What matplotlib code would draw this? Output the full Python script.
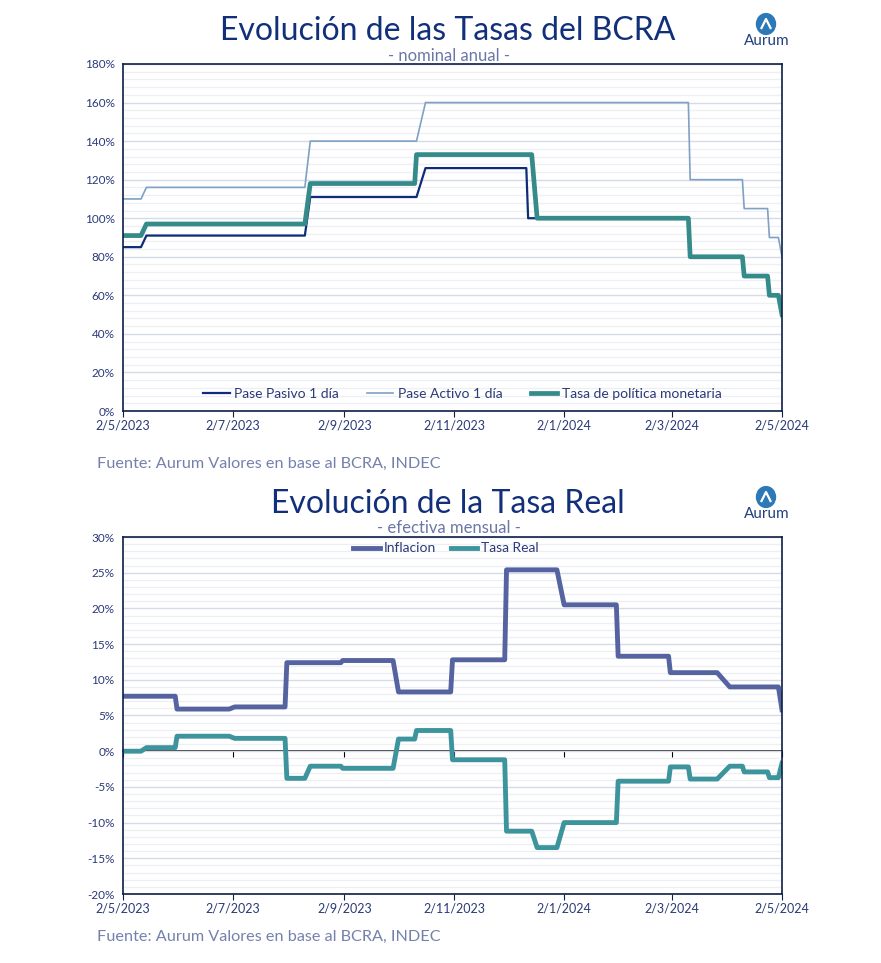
import numpy as np
import pandas as pd
import matplotlib
matplotlib.use("Agg")
import matplotlib.pyplot as plt
import matplotlib.dates as mdates
from matplotlib.ticker import FuncFormatter, MultipleLocator
from matplotlib.lines import Line2D
from matplotlib.patches import Circle
from pandas.tseries.offsets import CustomBusinessDay

plt.rcParams['font.family'] = ['Lato', 'DejaVu Sans']
plt.rcParams['axes.unicode_minus'] = False

# --- data ---
start_date = "2023-05-02"
end_date = "2024-05-02"
holidays = ["2023-05-25", "2023-05-26", "2023-06-19", "2023-06-20", "2023-08-21",
            "2023-10-13", "2023-10-16", "2023-11-20", "2023-12-08", "2023-12-25",
            "2024-01-01", "2024-02-12", "2024-02-13", "2024-03-28", "2024-03-29",
            "2024-04-01", "2024-04-02", "2024-05-01"]
x_ticks = ["2023-05-02", "2023-07-02", "2023-09-02", "2023-11-02",
           "2024-01-02", "2024-03-02", "2024-05-02"]

# nominal annual rates (%), dates where each level starts
pasivo_dates = ["2023-05-02", "2023-05-15", "2023-08-14", "2023-10-17", "2023-12-13"]
pasivo_vals = [85, 91, 111, 126, 100]
pasivo_end = "2023-12-18"

activo_dates = ["2023-05-02", "2023-05-15", "2023-08-14", "2023-10-17",
                "2024-03-12", "2024-04-11", "2024-04-25", "2024-05-02"]
activo_vals = [110, 116, 140, 160, 120, 105, 90, 80]

tpm_dates = ["2023-05-02", "2023-05-15", "2023-08-14", "2023-10-12", "2023-12-18",
             "2024-03-12", "2024-04-11", "2024-04-25", "2024-05-02"]
tpm_vals = [91, 97, 118, 133, 100, 80, 70, 60, 50]

# monthly effective (%)
infl_dates = ["2023-05-02", "2023-06-01", "2023-07-03", "2023-08-01", "2023-09-01",
              "2023-10-02", "2023-11-01", "2023-12-01", "2024-01-02", "2024-02-01",
              "2024-03-01", "2024-04-03", "2024-05-02"]
infl_vals = [7.7, 5.9, 6.2, 12.4, 12.7, 8.3, 12.8, 25.4, 20.5, 13.3, 11.0, 9.0, 5.8]

real_dates = ["2023-05-02", "2023-05-15", "2023-06-01", "2023-07-03", "2023-08-01",
              "2023-08-14", "2023-09-01", "2023-10-02", "2023-10-12", "2023-11-01",
              "2023-12-01", "2023-12-18", "2024-01-02", "2024-02-01", "2024-03-01",
              "2024-03-12", "2024-04-03", "2024-04-11", "2024-04-25", "2024-05-02"]
real_vals = [0.0, 0.5, 2.1, 1.8, -3.8, -2.1, -2.4, 1.7, 2.9, -1.2,
             -11.2, -13.5, -10.0, -4.2, -2.2, -3.9, -2.1, -2.9, -3.7, -1.7]

bday = CustomBusinessDay(holidays=holidays)


def step_points(dates, vals, end=end_date):
    """Vertices of a step series sampled on business days."""
    dts = pd.to_datetime(dates)
    xs, ys = [], []
    for i, (d, v) in enumerate(zip(dts, vals)):
        if i > 0:
            xs.append(d - bday)
            ys.append(vals[i - 1])
        xs.append(d)
        ys.append(v)
    if pd.Timestamp(end) > xs[-1]:
        xs.append(pd.Timestamp(end))
        ys.append(vals[-1])
    return xs, ys


title_c = '#12307a'
sub_c = '#6b78a6'
tick_c = '#2b3a78'
spine_c = '#0d1f45'
W, H = 881, 963


def fx(x):
    return x / W


def fy(y):
    return 1 - y / H


def date_fmt(x, pos):
    d = mdates.num2date(x)
    return f"{d.day}/{d.month}/{d.year}"


def style_axes(ax, major, minor):
    ax.set_xlim(pd.Timestamp(start_date), pd.Timestamp(end_date))
    ax.set_xticks(pd.to_datetime(x_ticks))
    ax.xaxis.set_major_formatter(FuncFormatter(date_fmt))
    ax.yaxis.set_major_locator(MultipleLocator(major))
    ax.yaxis.set_minor_locator(MultipleLocator(minor))
    ax.yaxis.set_major_formatter(FuncFormatter(lambda v, p: f"{v:.0f}%"))
    ax.grid(axis='y', which='major', color='#d5dbe8', lw=1.0)
    ax.grid(axis='y', which='minor', color='#eceff6', lw=0.9)
    ax.set_axisbelow(True)
    for s in ax.spines.values():
        s.set_color(spine_c)
        s.set_linewidth(1.2)
    ax.tick_params(axis='y', length=0, labelsize=8.5, labelcolor=tick_c, pad=6)
    ax.tick_params(axis='y', which='minor', length=0)
    ax.tick_params(axis='x', length=4, direction='out', color=spine_c,
                   labelsize=9, labelcolor=tick_c, pad=2)


def logo(cx, cy):
    fig.patches.append(Circle((fx(cx), fy(cy)), 9.5 / W, transform=fig.transFigure,
                              color='#2d79b8', zorder=5))
    fig.lines.append(Line2D([fx(cx - 4.5), fx(cx), fx(cx + 4.5)],
                            [fy(cy + 4), fy(cy - 5), fy(cy + 4)],
                            transform=fig.transFigure, color='white', lw=1.6, zorder=6))
    fig.text(fx(cx + 1), fy(cy + 17), "Aurum", ha='center', va='center',
             fontsize=11, color='#22407f')


fig = plt.figure(figsize=(W / 100, H / 100), dpi=100)

# ---------------- top chart ----------------
ax1 = fig.add_axes([fx(123), fy(411), fx(782) - fx(123), fy(64) - fy(411)])
x, y = step_points(pasivo_dates, pasivo_vals, pasivo_end)
ax1.plot(x, y, color='#0f2c78', lw=1.6, label='Pase Pasivo 1 día')
x, y = step_points(activo_dates, activo_vals)
ax1.plot(x, y, color='#7ea1c4', lw=1.2, label='Pase Activo 1 día')
x, y = step_points(tpm_dates, tpm_vals)
ax1.plot(x, y, color='#358a8a', lw=3.4, label='Tasa de política monetaria')
ax1.set_ylim(0, 180)
style_axes(ax1, 20, 4)
ax1.legend(loc='center', bbox_to_anchor=(0.515, 0.05), ncol=3, frameon=False,
           fontsize=10, labelcolor=tick_c, handlelength=1.9, handletextpad=0.35,
           columnspacing=2.0)

fig.text(0.508, fy(31), "Evolución de las Tasas del BCRA", ha='center', va='center',
         fontsize=23, color=title_c)
fig.text(0.51, fy(56), "- nominal anual -", ha='center', va='center',
         fontsize=12, color=sub_c)
fig.text(fx(97), fy(464), "Fuente: Aurum Valores en base al BCRA, INDEC",
         ha='left', va='center', fontsize=11.7, color='#7581ad')
logo(766, 24)

# ---------------- bottom chart ----------------
ax2 = fig.add_axes([fx(123), fy(894), fx(782) - fx(123), fy(537) - fy(894)])
x, y = step_points(infl_dates, infl_vals)
ax2.plot(x, y, color='#5563a0', lw=3.5, label='Inflacion')
x, y = step_points(real_dates, real_vals)
ax2.plot(x, y, color='#3d949c', lw=3.5, label='Tasa Real')
ax2.set_ylim(-20, 30)
style_axes(ax2, 5, 1)
# horizontal axis crossing at 0%
zero_ax = ax2.secondary_xaxis(20 / 50)
zero_ax.set_xticks(pd.to_datetime(x_ticks))
zero_ax.set_xticklabels([])
zero_ax.tick_params(length=4, direction='out', color='black')
zero_ax.spines['bottom'].set_color('black')
zero_ax.spines['bottom'].set_linewidth(1.1)
ax2.legend(loc='center', bbox_to_anchor=(0.49, 0.968), ncol=2, frameon=False,
           fontsize=10, labelcolor=tick_c, handlelength=1.9, handletextpad=0.25,
           columnspacing=1.1)

fig.text(0.508, fy(504), "Evolución de la Tasa Real", ha='center', va='center',
         fontsize=23, color=title_c)
fig.text(0.51, fy(528), "- efectiva mensual -", ha='center', va='center',
         fontsize=12, color=sub_c)
fig.text(fx(97), fy(937), "Fuente: Aurum Valores en base al BCRA, INDEC",
         ha='left', va='center', fontsize=11.7, color='#7581ad')
logo(766, 497)

fig.savefig("out.png", dpi=100)
